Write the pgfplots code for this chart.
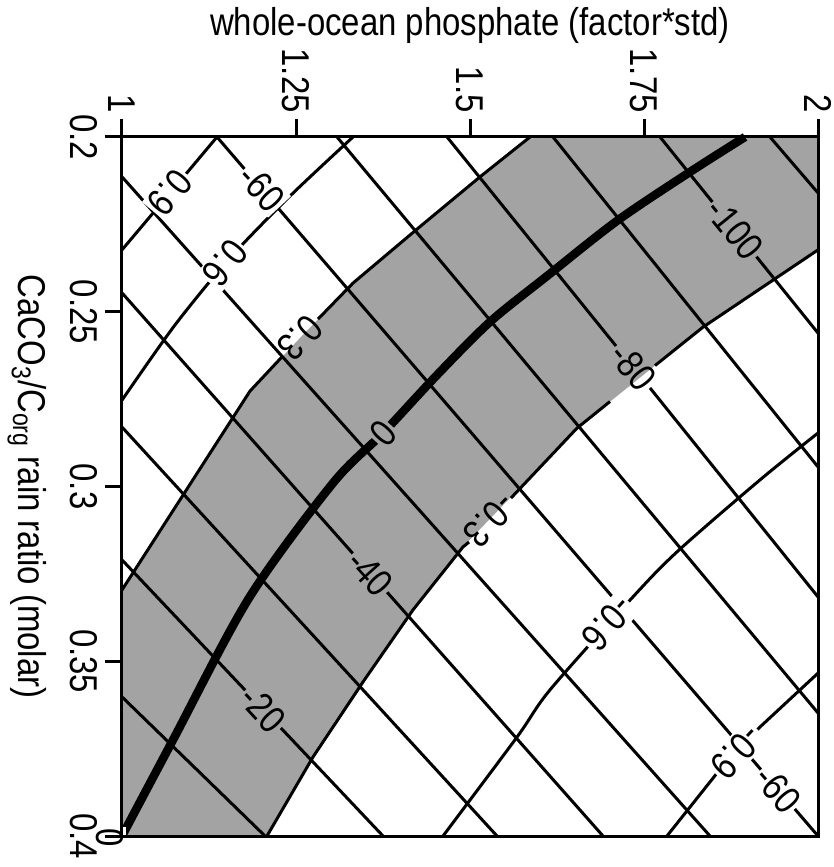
\documentclass[border=0pt]{standalone}
\usepackage{fontspec}
\setmainfont{Liberation Sans}[FakeStretch=0.85]
\usepackage{pgfplots}
\pgfplotsset{compat=1.18}
\definecolor{band}{gray}{0.64}
\newcommand{\lf}{\fontsize{15.5}{18}\selectfont}
\tikzset{lab/.style={font=\lf, inner sep=0.8pt}}
\begin{document}
\begin{tikzpicture}
\begin{axis}[
  scale only axis, width=278.4pt, height=279.6pt,
  xmin=1, xmax=2, ymin=0.2, ymax=0.4, y dir=reverse,
  clip=false, axis on top,
  axis line style={line width=1.2pt},
  xtick={1,1.25,1.5,1.75,2}, xticklabels={1,1.25,1.5,1.75,2},
  ytick={0.2,0.25,0.3,0.35,0.4}, yticklabels={0.2,0.25,0.3,0.35,0.4},
  xtick pos=right, xticklabel pos=right,
  ytick pos=left, yticklabel pos=left,
  tick align=outside, major tick length=7pt,
  tick style={line width=1.2pt, black},
  xticklabel style={rotate=-90, anchor=east, font=\lf, inner sep=2.5pt},
  yticklabel style={rotate=-90, anchor=north, font=\lf, inner sep=2.5pt},
  xlabel={whole-ocean phosphate (factor*std)},
  xlabel style={font=\lf, yshift=-4pt},
  ylabel={CaCO\textsubscript{3}/C\textsubscript{org} rain ratio (molar)},
  every axis y label/.style={at={(ticklabel cs:0.5,3.5pt)}, rotate=-90, anchor=north, font=\lf},
]
% shaded band between +0.3 and -0.3 contours
\addplot[fill=band, draw=none] coordinates {
 (1,0.3296) (1.0934,0.3007) (1.1839,0.2727) (1.2557,0.2575) (1.3319,0.2418)
 (1.4224,0.2266) (1.5144,0.2114) (1.5862,0.2) (2,0.2) (2,0.2323)
 (1.8348,0.2544) (1.6537,0.2833) (1.4899,0.3173) (1.4181,0.3353)
 (1.3463,0.3559) (1.2744,0.3774) (1.2083,0.4) (1,0.4)} -- cycle;

% SW-NE contours
\addplot[black, line width=1.2pt, line join=round] coordinates {(1.1365,0.2) (1.0690,0.2160) (1,0.2323)};
\addplot[black, line width=1.2pt, line join=round, smooth, tension=0.5] coordinates {(1.3319,0.2) (1.2414,0.2169) (1.1552,0.2346) (1.0761,0.2538) (1,0.2753)};
% +0.3 (split at its label)
\addplot[black, line width=1.2pt, line join=round] coordinates {(1.5862,0.2) (1.5144,0.2114) (1.4224,0.2266) (1.3319,0.2418) (1.2816,0.2521)};
\addplot[black, line width=1.2pt, line join=round] coordinates {(1.2299,0.2629) (1.1839,0.2727) (1.0934,0.3007) (1,0.3296)};
% 0 (thick)
\addplot[black, line width=3.4pt, line join=round, smooth, tension=0.5] coordinates {(1,0.4) (1.0733,0.3725) (1.1825,0.3319) (1.3032,0.2990) (1.3750,0.2847) (1.4526,0.2681) (1.5287,0.2529) (1.6106,0.2398) (1.7112,0.2240) (1.8161,0.2100) (1.8951,0.2)};
% -0.3 (split at two labels)
\addplot[black, line width=1.2pt, line join=round] coordinates {(1.2083,0.4) (1.2744,0.3774) (1.3463,0.3559) (1.4181,0.3353) (1.4899,0.3173) (1.4986,0.3159)};
\addplot[black, line width=1.2pt, line join=round] coordinates {(1.5589,0.3033) (1.6537,0.2833) (1.7011,0.2757)};
\addplot[black, line width=1.2pt, line join=round] coordinates {(1.7658,0.2654) (1.8348,0.2544) (2,0.2323)};
% -0.6, -0.9
\addplot[black, line width=1.2pt, line join=round, smooth, tension=0.5] coordinates {(1.4612,0.4) (1.5675,0.3717) (1.6149,0.3582) (1.7299,0.3325) (1.7974,0.3187) (1.9167,0.2981) (2,0.2847)};
\addplot[black, line width=1.2pt, line join=round] coordinates {(1.7830,0.4) (1.8549,0.3820) (1.9167,0.3688) (2,0.3534)};

% NW-SE contours
\addplot[black, line width=1.2pt] coordinates {(1,0.3602) (1.2055,0.4)};
\addplot[black, line width=1.2pt] coordinates {(1,0.3210) (1.3750,0.4)};
\addplot[black, line width=1.2pt] coordinates {(1,0.2830) (1.5388,0.4)};
\addplot[black, line width=1.2pt] coordinates {(1,0.2446) (1.6911,0.4)};
\addplot[black, line width=1.2pt] coordinates {(1,0.2114) (1.8448,0.4)};
\addplot[black, line width=1.2pt] coordinates {(1.1365,0.2) (2,0.4)};
\addplot[black, line width=1.2pt] coordinates {(1.3089,0.2) (2,0.3648)};
\addplot[black, line width=1.2pt] coordinates {(1.4670,0.2) (1.7098,0.2598)};
\addplot[black, line width=1.2pt] coordinates {(1.7586,0.2718) (2,0.3316)};
\addplot[black, line width=1.2pt] coordinates {(1.6193,0.2) (2,0.2944)};
\addplot[black, line width=1.2pt] coordinates {(1.7730,0.2) (2,0.2561)};
\addplot[black, line width=1.2pt] coordinates {(1.9310,0.2) (2,0.2160)};

% contour labels
\node[lab, fill=white, rotate=-47] at (axis cs:1.2011,0.2146) {-60};
\node[lab, fill=white, rotate=-49] at (axis cs:1.9425,0.3866) {-60};
\node[lab, fill=band, rotate=-51] at (axis cs:1.8807,0.2263) {-100};
\node[lab, rotate=-51] at (axis cs:1.7342,0.2658) {-80};
\node[lab, fill=band, rotate=-48] at (axis cs:1.3563,0.3247) {-40};
\node[lab, fill=band, rotate=-47] at (axis cs:1.2026,0.3637) {-20};
\node[lab, fill=white, rotate=-130] at (axis cs:1.0690,0.2160) {0.9};
\node[lab, fill=white, rotate=-129] at (axis cs:1.1480,0.2361) {0.6};
\node[lab, rotate=-134] at (axis cs:1.2557,0.2575) {0.3};
\node[lab, fill=band, rotate=-132] at (axis cs:1.3750,0.2847) {0};
\node[lab, rotate=-134] at (axis cs:1.5287,0.3096) {-0.3};
\node[lab, fill=white, rotate=-132] at (axis cs:1.6983,0.3393) {-0.6};
\node[lab, fill=white, rotate=-133] at (axis cs:1.8836,0.3760) {-0.9};
\node[lab, fill=white, rotate=-90] at (axis cs:0.9828,0.4006) {0};
\coordinate (BL) at (axis cs:1,0.4);
\end{axis}
\pgfresetboundingbox
\path[use as bounding box] (BL) ++(-48.8pt,-12.4pt) rectangle ++(333.2pt,346.8pt);
\end{tikzpicture}
\end{document}
